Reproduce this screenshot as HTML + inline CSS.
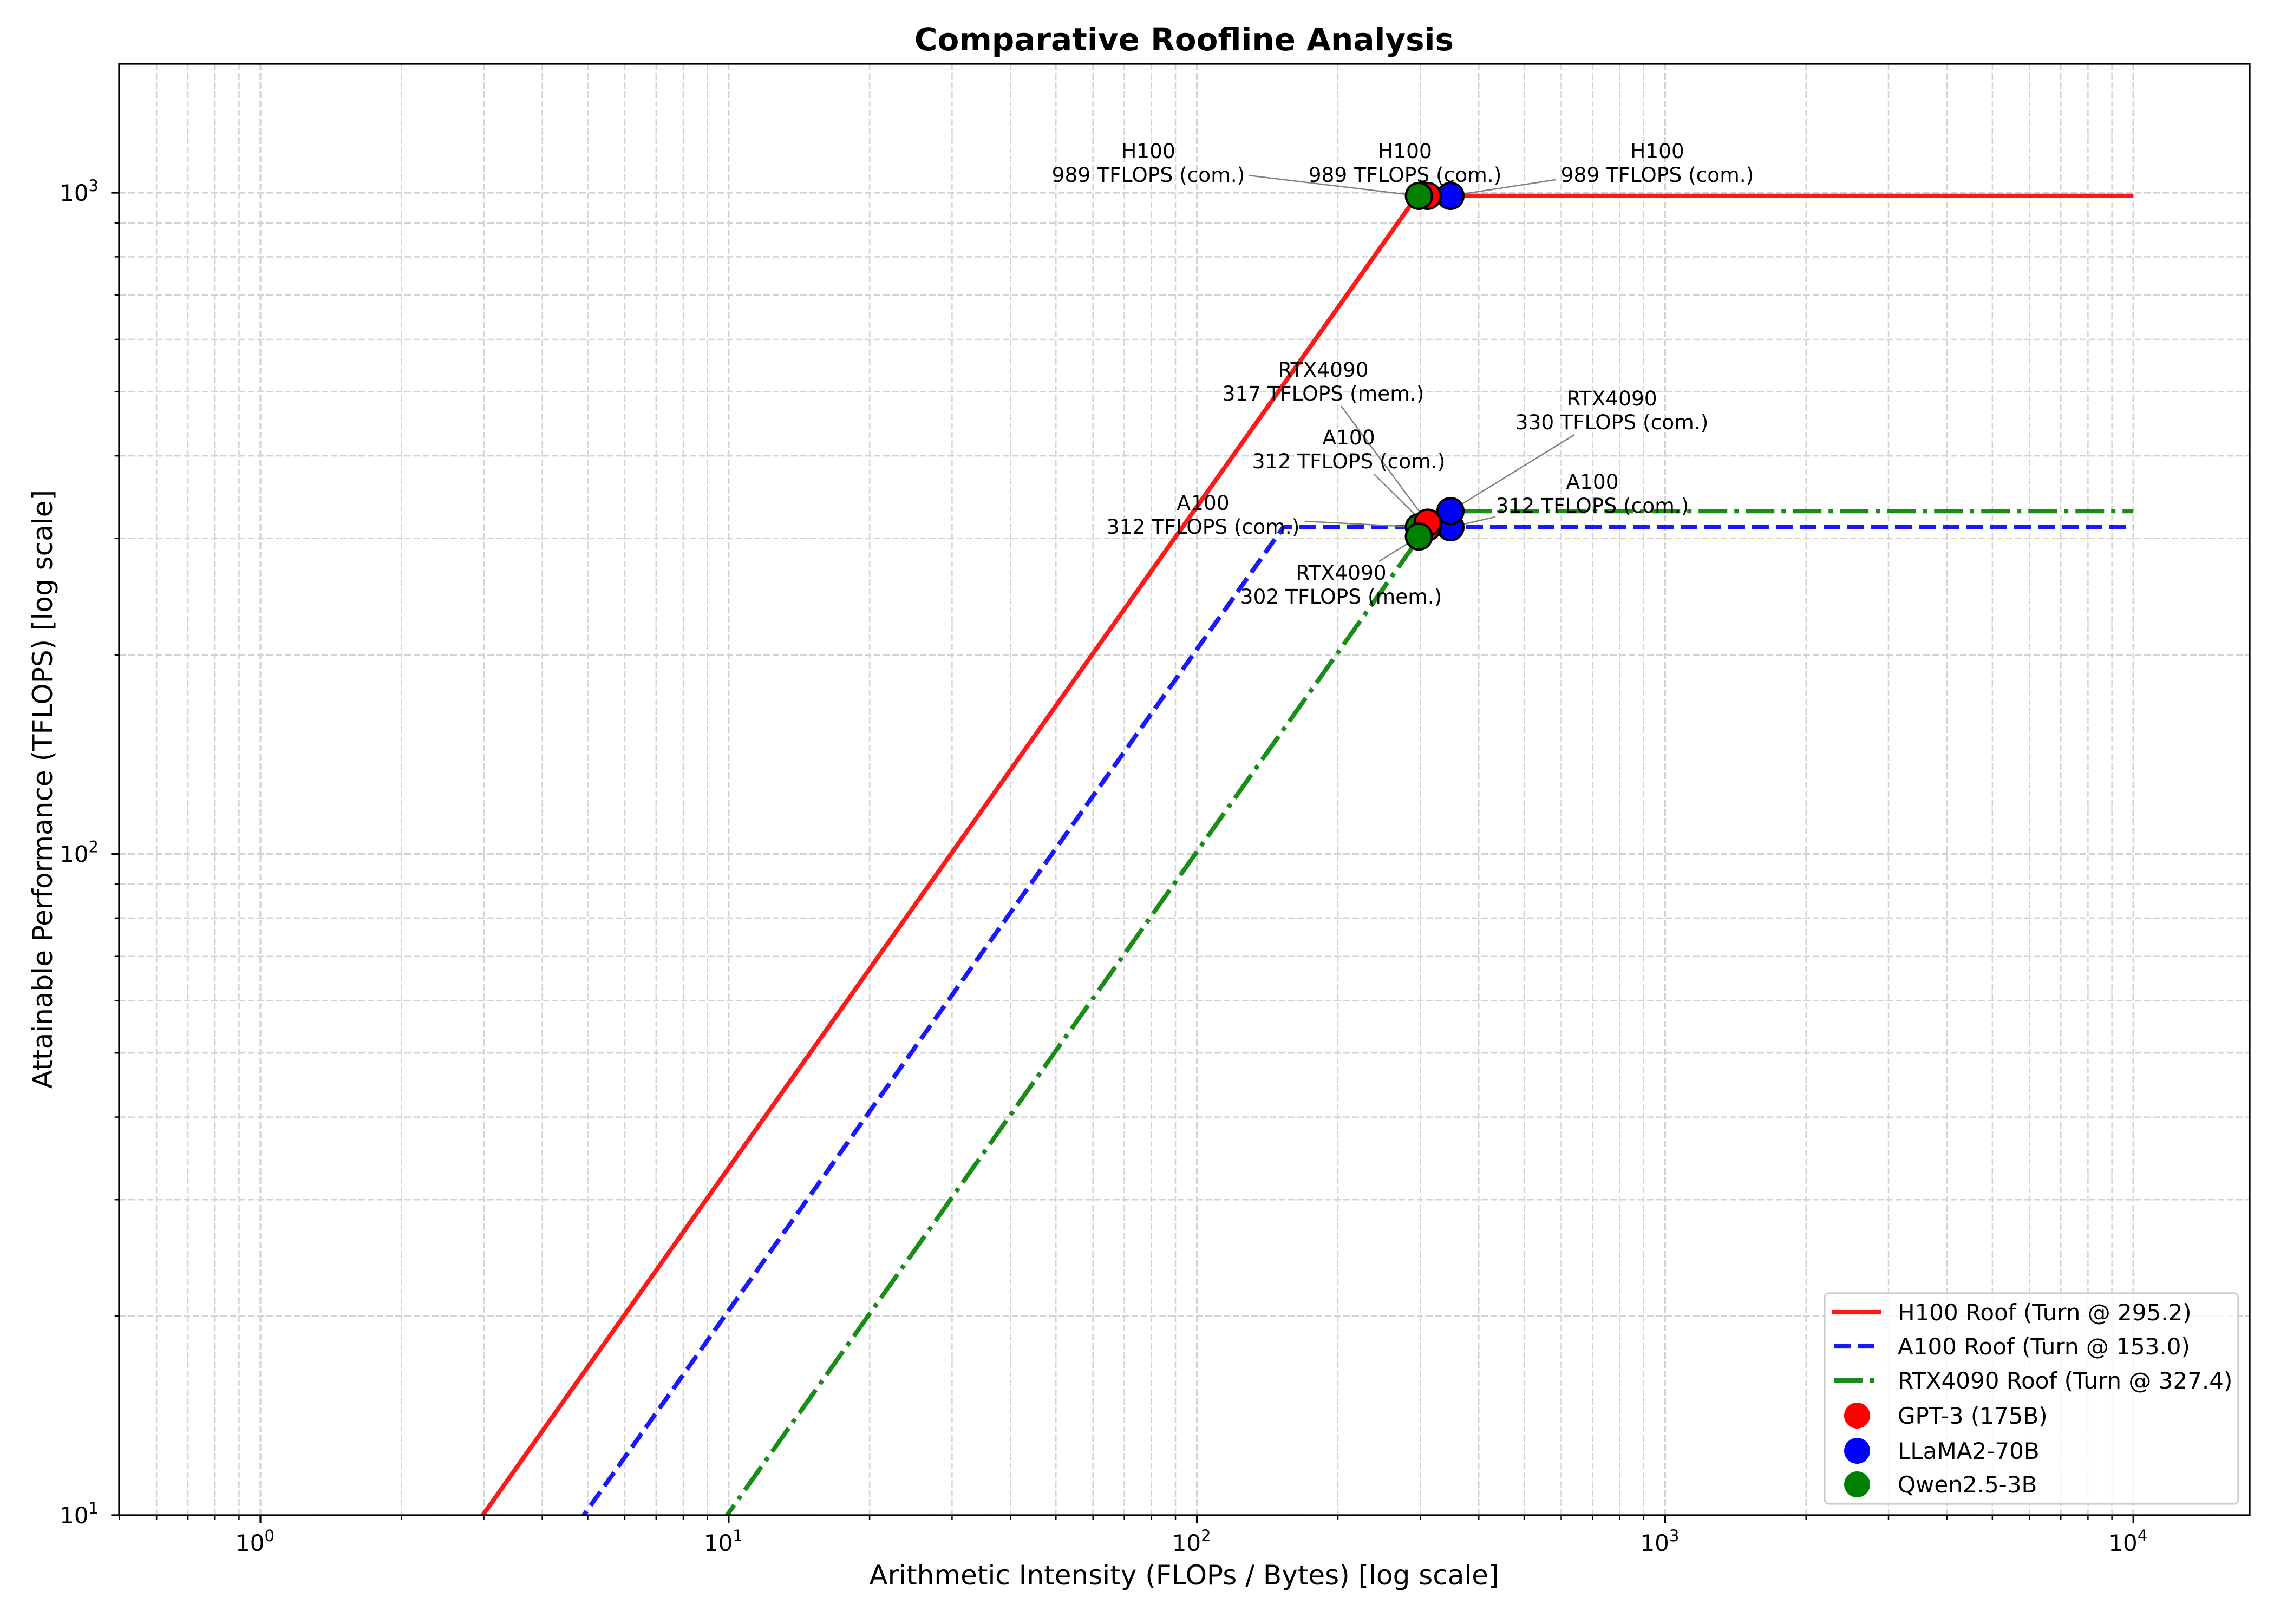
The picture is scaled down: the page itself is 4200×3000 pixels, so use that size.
<!DOCTYPE html>
<html><head><meta charset="utf-8"><style>
html,body{margin:0;padding:0;background:#fff;width:4200px;height:3000px;overflow:hidden;}
svg{display:block;font-family:"DejaVu Sans","Liberation Sans",sans-serif;}
</style></head><body>
<svg id="chart" width="4200" height="3000" viewBox="0 0 4200 3000" xmlns="http://www.w3.org/2000/svg">
<rect width="4200" height="3000" fill="#fff"/>
<defs><clipPath id="pc"><rect x="220" y="118" width="3935" height="2681"/></clipPath></defs>
<g id="grid"></g>
<g id="roofs" clip-path="url(#pc)"></g>
<g id="ann"></g>
<g id="pts"></g>
<rect x="220" y="118" width="3935" height="2681" fill="none" stroke="#000" stroke-width="3.3"/>
<g id="ticks"></g>
<text x="2187" y="93" text-anchor="middle" font-size="58" font-weight="bold">Comparative Roofline Analysis</text>
<text x="2187" y="2927" text-anchor="middle" font-size="50">Arithmetic Intensity (FLOPs / Bytes) [log scale]</text>
<text transform="translate(96,1458) rotate(-90)" text-anchor="middle" font-size="50">Attainable Performance (TFLOPS) [log scale]</text>
<g>
<rect x="3370" y="2389" width="764" height="389" rx="8" fill="#fff" fill-opacity="0.8" stroke="#ccc" stroke-width="3.3"/>
<line x1="3384" y1="2424" x2="3475" y2="2424" stroke="#ff0000" stroke-opacity="0.9" stroke-width="8.3"/>
<text x="3505" y="2439" font-size="42">H100 Roof (Turn @ 295.2)</text>
<line x1="3387" y1="2487" x2="3475" y2="2487" stroke="#0000ff" stroke-opacity="0.9" stroke-width="8.3" stroke-dasharray="31,13"/>
<text x="3505" y="2502" font-size="42">A100 Roof (Turn @ 153.0)</text>
<line x1="3387" y1="2550" x2="3475" y2="2550" stroke="#007f00" stroke-opacity="0.9" stroke-width="8.3" stroke-dasharray="53,13,8,13"/>
<text x="3505" y="2565" font-size="42">RTX4090 Roof (Turn @ 327.4)</text>
<circle cx="3430" cy="2615" r="24" fill="#ff0000"/>
<text x="3505" y="2630" font-size="42">GPT-3 (175B)</text>
<circle cx="3430" cy="2680" r="24" fill="#0000ff"/>
<text x="3505" y="2695" font-size="42">LLaMA2-70B</text>
<circle cx="3430" cy="2742" r="24" fill="#008000"/>
<text x="3505" y="2757" font-size="42">Qwen2.5-3B</text>
</g>
</svg>
<script>
const xTickLabels=["0","1","2","3","4"];
const yTickLabels=["1","2","3"];
const roofNames=["H100","A100","RTX4090"];
const roofPeaks=[989,312,330];
const roofTurns=[295.2,153.0,327.4];
const modelNames=["GPT-3 (175B)","LLaMA2-70B","Qwen2.5-3B"];
const modelAI=[311,348,298];
const perfH100=[989,989,989];
const perfA100=[312,312,312];
const perfRTX=[317,330,302];
const NS="http://www.w3.org/2000/svg";
const L=220,R=4155,T=118,B=2799;
const X0=481,XD=864.8,Y3=356,YD=1221.5;
function xs(v){return X0+Math.log10(v)*XD;}
function ys(v){return Y3+(3-Math.log10(v))*YD;}
function mk(tag,attrs,parent){const e=document.createElementNS(NS,tag);for(const k in attrs)e.setAttribute(k,attrs[k]);parent.appendChild(e);return e;}
const grid=document.getElementById('grid'),ticks=document.getElementById('ticks');
for(let d=-1;d<=4;d++){for(let m=1;m<=9;m++){const v=m*Math.pow(10,d);const x=xs(v);if(x<L||x>R)continue;
 const g=mk('line',{x1:x,y1:T,x2:x,y2:B,stroke:'#d3d3d3','stroke-width':m==1?3.3:2.5,'stroke-dasharray':'12,5'},grid);
 
 
 const t=mk('line',{x1:x,y1:B,x2:x,y2:B+(m==1?14.6:8.3),stroke:'#000','stroke-width':m==1?3.3:2.5},ticks);
 
 }}
for(let d=1;d<=3;d++){for(let m=1;m<=9;m++){const v=m*Math.pow(10,d);const y=ys(v);if(y<T||y>B)continue;
 const g=mk('line',{x1:L,y1:y,x2:R,y2:y,stroke:'#d3d3d3','stroke-width':m==1?3.3:2.5,'stroke-dasharray':'12,5'},grid);
 
 
 const t=mk('line',{x1:L,y1:y,x2:L-(m==1?14.6:8.3),y2:y,stroke:'#000','stroke-width':m==1?3.3:2.5},ticks);
 
 }}
xTickLabels.forEach(p=>{const x=xs(Math.pow(10,+p));
 const t=mk('text',{x:x-10,y:2865,'text-anchor':'middle','font-size':42},ticks);
 
 
 t.textContent='10';const s=mk('tspan',{dy:-18,'font-size':29},t);s.textContent=p;});
yTickLabels.forEach(p=>{const y=ys(Math.pow(10,+p));
 const t=mk('text',{x:182,y:y+15,'text-anchor':'end','font-size':42},ticks);
 
 
 t.textContent='10';const s=mk('tspan',{dy:-18,'font-size':29},t);s.textContent=p;});
const roofs=document.getElementById('roofs');
const roofColors=['#ff0000','#0000ff','#007f00'];
const roofDash=['none','31,13','53,13,8,13'];
roofNames.forEach((n,i)=>{const bw=roofPeaks[i]/roofTurns[i];const x1=0.1,xt=roofTurns[i],x2=1e4;
 const p=mk('polyline',{points:`${xs(x1)},${ys(bw*x1)} ${xs(xt)},${ys(roofPeaks[i])} ${xs(x2)},${ys(roofPeaks[i])}`,fill:'none',stroke:roofColors[i],'stroke-opacity':0.9,'stroke-width':8.3,'stroke-dasharray':roofDash[i]},roofs);
 
 });
const pts=document.getElementById('pts');
const mColors=['#ff0000','#0000ff','#008000'];
const perfs=[perfH100,perfA100,perfRTX];
const order=[1,0,2];
perfs.forEach((arr,g)=>{order.forEach(i=>{
 const c=mk('circle',{cx:xs(modelAI[i]),cy:ys(arr[i]),r:24,fill:mColors[i],stroke:'#000','stroke-width':4.2},pts);
 
 });});
const annText=[[0,2,2121,'(com.)'],[0,0,2595,'(com.)'],[0,1,3061,'(com.)'],[2,0,2444,'(mem.)'],[1,0,2491,'(com.)'],[2,1,2977,'(com.)'],[1,1,2941,'(com.)'],[1,2,2222,'(com.)'],[2,2,2477,'(mem.)']];
const annY=[278,278,278,682,807,735,889,928,1057];
const annStart=[[2306,324],null,[2873,332],[2477,750],[2537,875],[2908,803],[2761,955],[2410,963],[2547,1037]];
const ann=document.getElementById('ann');
annText.forEach((a,k)=>{const [g,i,cx,suf]=a;const v=perfs[g][i];
 if(annStart[k]){const l=mk('line',{x1:annStart[k][0],y1:annStart[k][1],x2:xs(modelAI[i]),y2:ys(v),stroke:'#808080','stroke-width':2.5},ann);
 
 }
 const t=mk('text',{x:cx,y:annY[k]+14,'text-anchor':'middle','font-size':37.5},ann);
 
 
 const s1=mk('tspan',{x:cx},t);s1.textContent=roofNames[g];
 const s2=mk('tspan',{x:cx,dy:44},t);s2.textContent=v+' TFLOPS '+suf;});
</script>
</body></html>
